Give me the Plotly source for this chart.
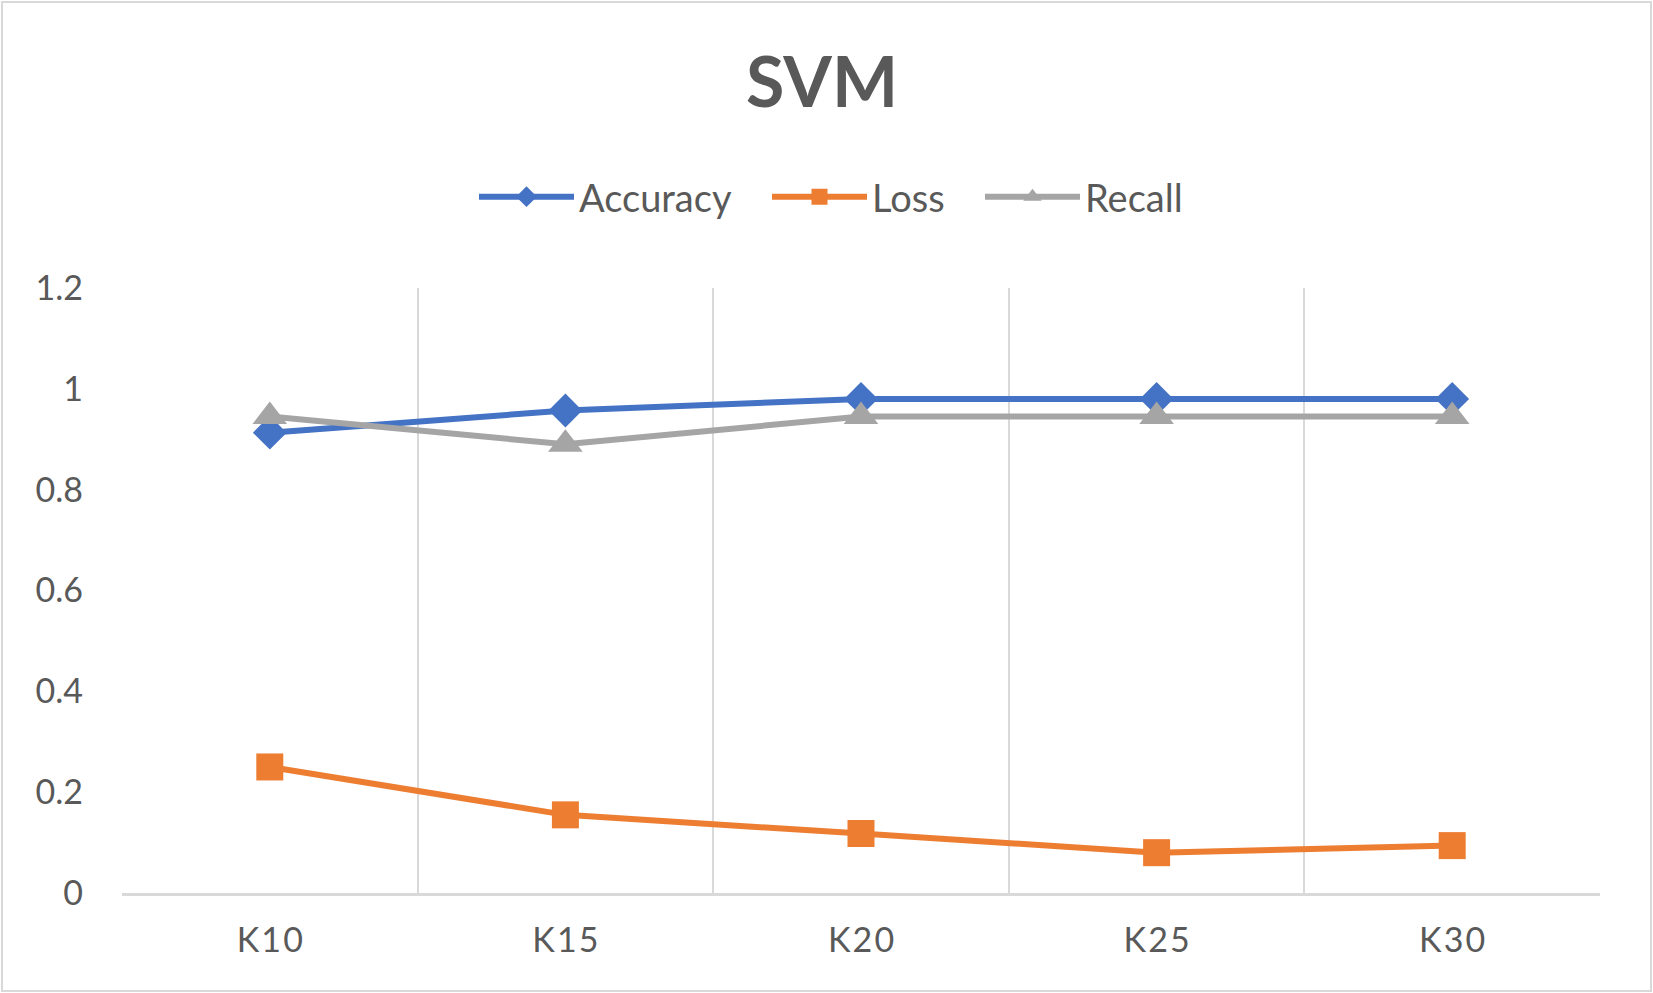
import plotly.graph_objects as go

categories = ["K10", "K15", "K20", "K25", "K30"]
accuracy = [0.913, 0.957, 0.98, 0.98, 0.98]
loss = [0.25, 0.155, 0.118, 0.08, 0.094]
recall = [0.945, 0.89, 0.945, 0.945, 0.945]
y_ticks = [0, 0.2, 0.4, 0.6, 0.8, 1, 1.2]
y_labels = ["0", "0.2", "0.4", "0.6", "0.8", "1", "1.2"]

W, H = 1653, 993
ml, mr, mt, mb = 122, 53, 288, 100
pw, ph = W - ml - mr, H - mt - mb

txt = "#595959"
font = "Lato, 'Open Sans', sans-serif"

fig = go.Figure()
fig.add_trace(go.Scatter(
	x=categories, y=accuracy, name="Accuracy", mode="lines+markers",
	line=dict(color="#4472C4", width=6),
	marker=dict(symbol="diamond", size=26, color="#4472C4"),
	legend="legend"))
fig.add_trace(go.Scatter(
	x=categories, y=loss, name="Loss", mode="lines+markers",
	line=dict(color="#ED7D31", width=6),
	marker=dict(symbol="square", size=27, color="#ED7D31"),
	legend="legend2"))
fig.add_trace(go.Scatter(
	x=categories, y=recall, name="Recall", mode="lines+markers",
	line=dict(color="#A5A5A5", width=6),
	marker=dict(symbol="triangle-up", size=30, color="#A5A5A5"),
	legend="legend3"))

# outer chart border
def px_x(p):
	return (p - ml) / pw

def px_y(p):
	return (H - p - mb) / ph

fig.add_shape(type="rect", xref="paper", yref="paper",
	x0=px_x(2), x1=px_x(W - 2), y0=px_y(H - 2), y1=px_y(2),
	line=dict(color="#D9D9D9", width=2), fillcolor="rgba(0,0,0,0)", layer="below")

def leg(xpix):
	return dict(orientation="h", xref="container", yref="container",
		x=xpix / W, xanchor="left", y=1 - 197 / H, yanchor="middle",
		font=dict(size=38, color=txt), itemwidth=95, bgcolor="rgba(0,0,0,0)")

fig.update_layout(
	width=W, height=H,
	margin=dict(l=ml, r=mr, t=mt, b=mb),
	paper_bgcolor="white", plot_bgcolor="white",
	font=dict(family=font, color=txt),
	title=dict(text="<b>SVM</b>", x=822 / W, xanchor="center",
		y=1 - 82 / H, yanchor="middle", font=dict(size=70, color=txt)),
	legend=leg(474), legend2=leg(767), legend3=leg(980),
	showlegend=True,
)
fig.update_xaxes(
	type="category", tickson="boundaries", showgrid=True,
	gridcolor="#D9D9D9", gridwidth=2,
	showline=True, linecolor="#D9D9D9", linewidth=3,
	ticks="", ticklabelstandoff=15,
	tickvals=categories, ticktext=["\u200a".join(c) for c in categories],
	tickfont=dict(size=34, color=txt), range=[-0.5, 4.5])
fig.update_yaxes(
	range=[0, 1.2], showgrid=False, zeroline=False, showline=False,
	tickvals=y_ticks, ticktext=y_labels, ticks="", ticklabelstandoff=38,
	tickfont=dict(size=34, color=txt))

fig.write_html("out.html", config={"displayModeBar": False},
	post_script="document.body.style.margin='0px';")
